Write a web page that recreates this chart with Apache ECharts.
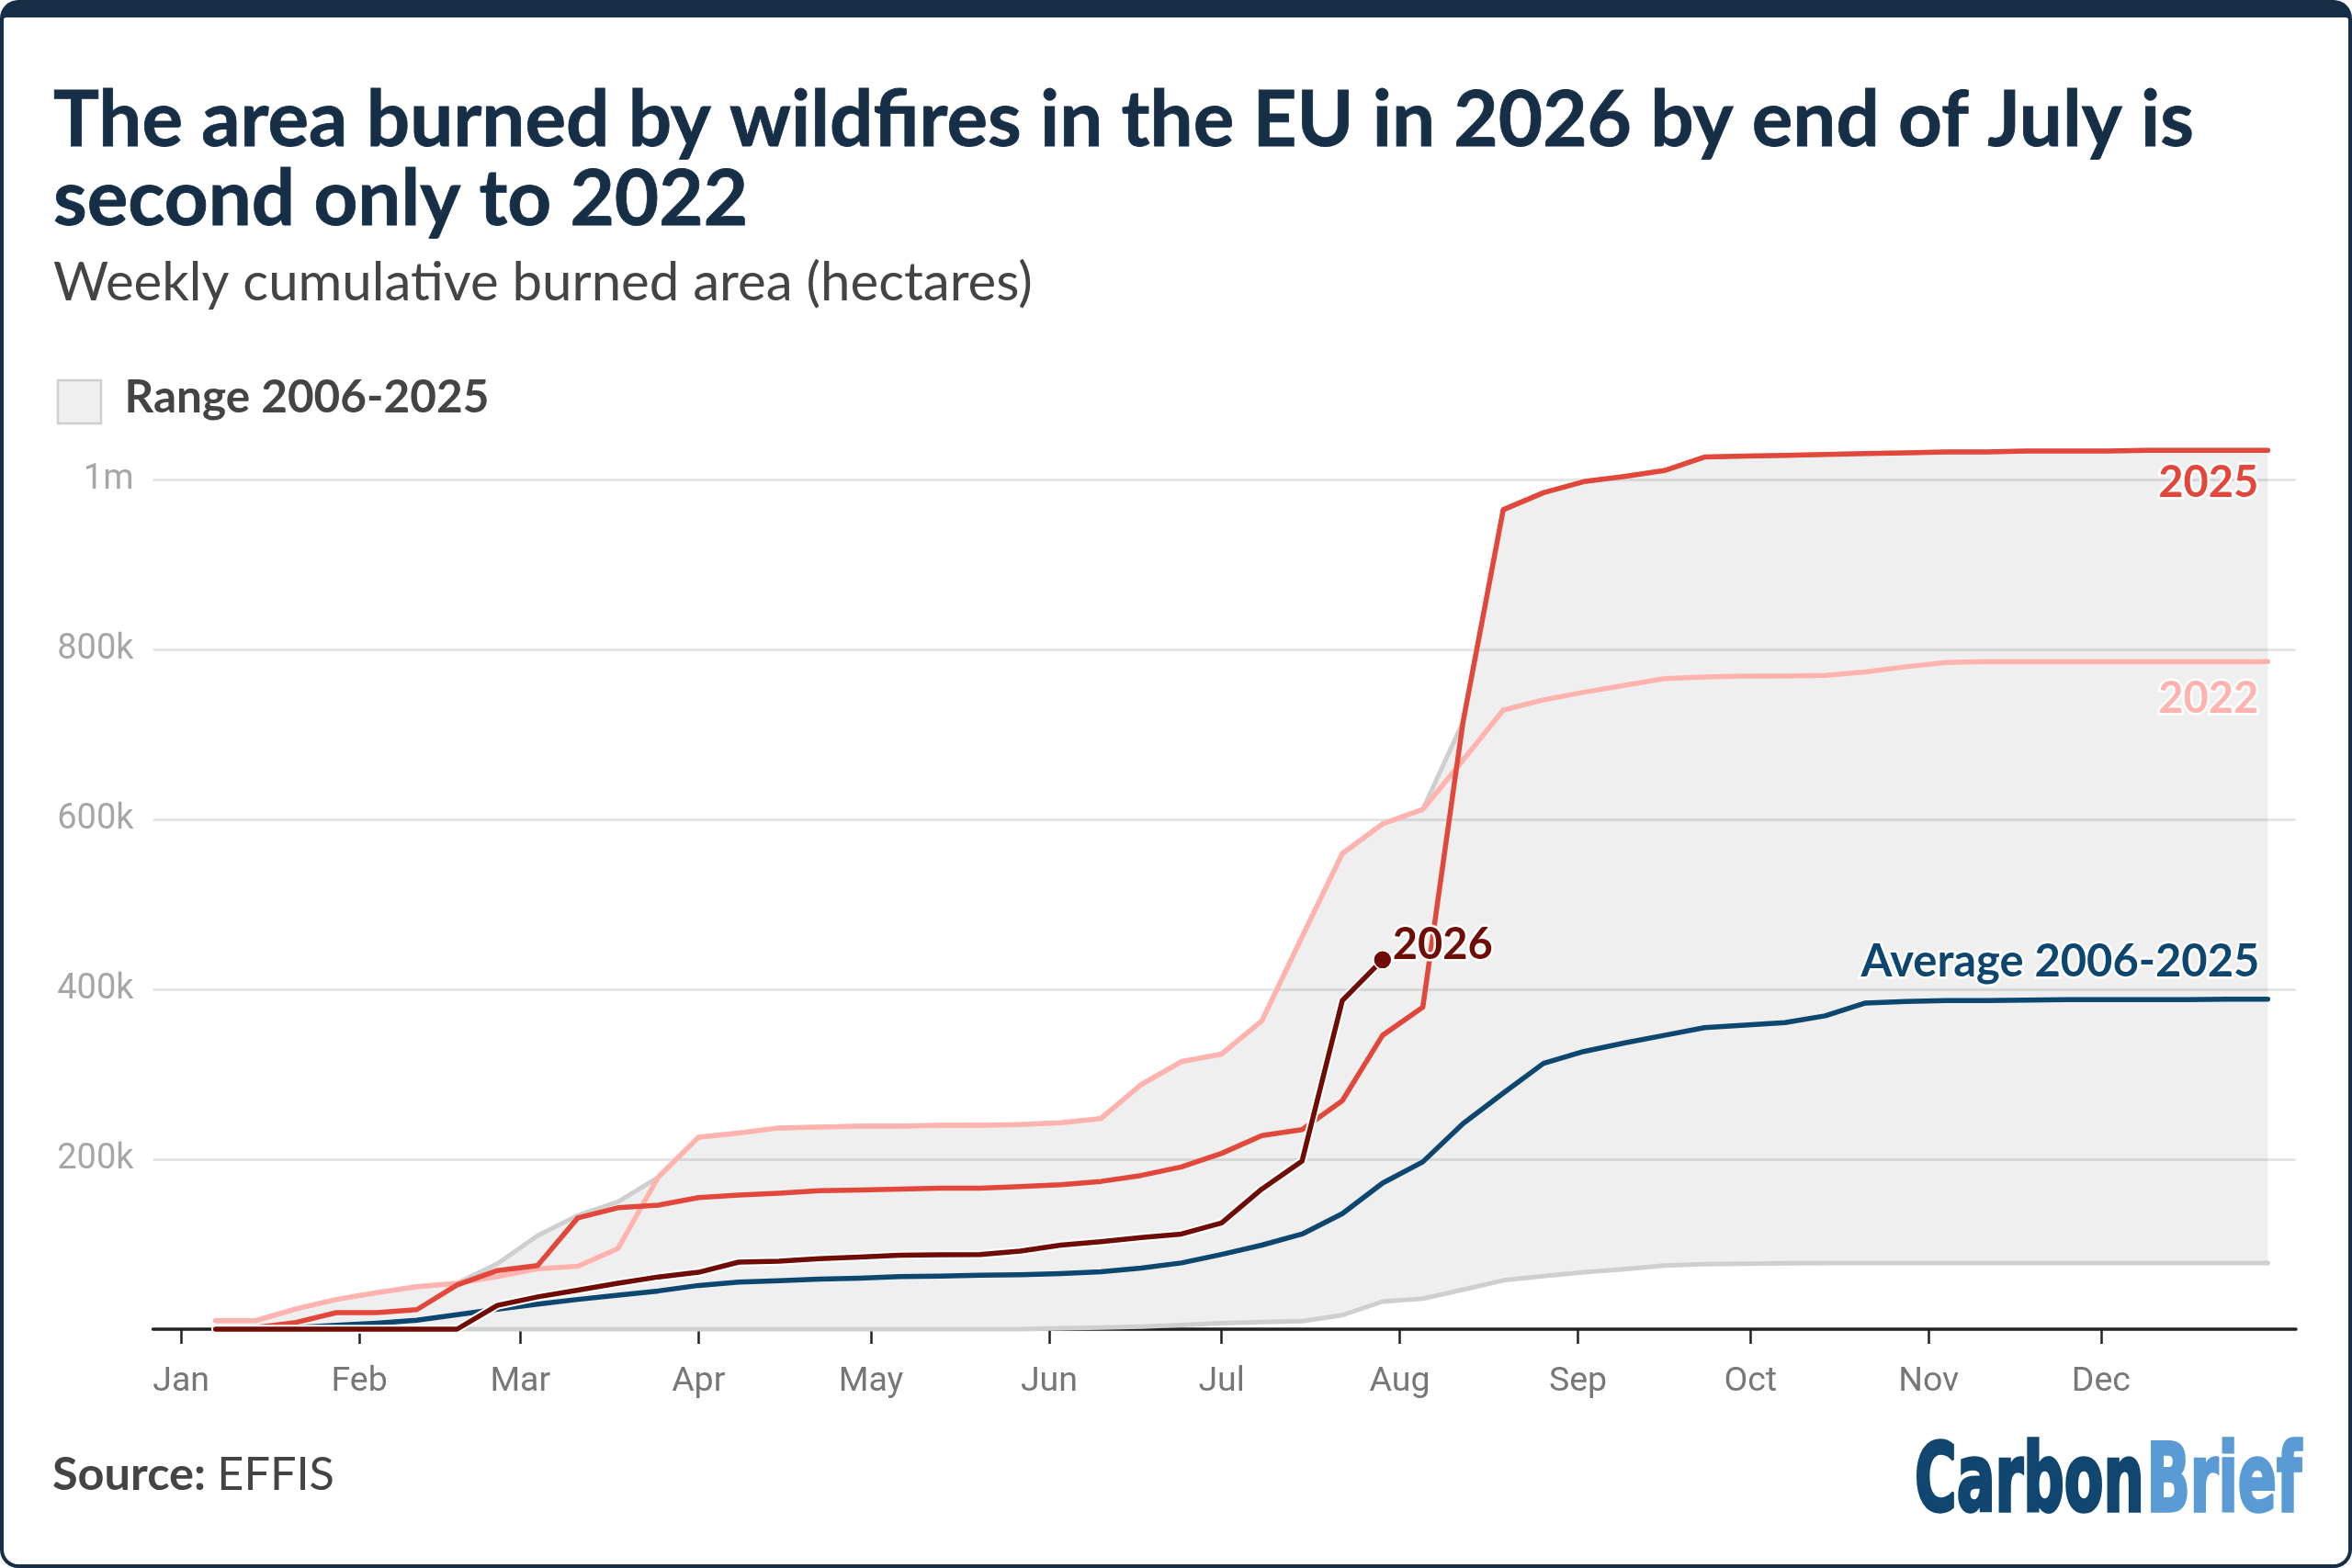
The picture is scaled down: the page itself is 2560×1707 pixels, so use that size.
<!DOCTYPE html>
<html>
<head>
<meta charset="utf-8">
<script src="https://cdn.jsdelivr.net/npm/echarts@6/dist/echarts.min.js"></script>
<style>
html,body{margin:0;padding:0;background:#fff;overflow:hidden}
#c{width:2560px;height:1707px}
</style>
</head>
<body>
<div id="c"></div>
<script>
// ---------------- DATA ----------------
const weekDates = ['01-07','01-14','01-21','01-28','02-04','02-11','02-18','02-25','03-04','03-11','03-18','03-25',
  '04-01','04-08','04-15','04-22','04-29','05-06','05-13','05-20','05-27','06-03','06-10','06-17','06-24',
  '07-01','07-08','07-15','07-22','07-29','08-05','08-12','08-19','08-26','09-02','09-09','09-16','09-23','09-30',
  '10-07','10-14','10-21','10-28','11-04','11-11','11-18','11-25','12-02','12-09','12-16','12-23','12-30'];

const monthStarts = ['01-01','02-01','03-01','04-01','05-01','06-01','07-01','08-01','09-01','10-01','11-01','12-01'];
const monthLabels = ['Jan','Feb','Mar','Apr','May','Jun','Jul','Aug','Sep','Oct','Nov','Dec'];

const rangeUpper = [10000,10000,24000,35000,43000,50000,54000,77000,110000,134000,
  150000,179000,226000,231000,237000,238000,239000,239000,240000,240000,
  241000,243000,248000,288000,315000,324000,363000,462000,560000,595000,
  612000,715000,965000,985000,998000,1004000,1011000,1027000,1028000,1029000,
  1030000,1031000,1032000,1033000,1033000,1034000,1034000,1034000,1035000,1035000,1035000,1035000];

const rangeLower = [0,0,0,0,0,0,0,0,0,0,
  0,0,0,0,0,0,0,0,0,0,
  0,1000,2000,3000,5000,7000,8500,9500,16500,32500,
  36000,46500,57500,62500,67000,70500,75000,76500,77000,77500,
  78000,78000,78000,78000,78000,78000,78000,78000,78000,78000,78000,78000];

const average = [0,500,2000,4500,7000,10500,17000,23500,29500,35000,
  40000,45000,51500,55500,57000,59000,60000,62000,62500,63500,
  64000,65500,67500,72000,78000,88000,99000,112000,136000,172000,
  197000,242000,278000,313000,327000,337000,346000,355000,358000,361000,
  369000,384000,386000,387000,387000,387500,388000,388000,388000,388000,388500,388500];

const y2022 = [10000,10000,24000,35000,43000,50000,54000,62000,71000,74000,
  95000,179000,226000,231000,237000,238000,239000,239000,240000,240000,
  241000,243000,248000,288000,315000,324000,363000,462000,560000,595000,
  612000,670000,729000,741000,750000,758000,766000,768000,769000,769000,
  770000,774000,780000,785000,786000,786000,786000,786000,786000,786000,786000,786000];

const y2025 = [0,2000,8000,19500,19500,23000,52000,69000,75000,131000,
  143000,146000,155000,158000,160000,163000,164000,165000,166000,166000,
  168000,170000,174000,181000,191000,207000,228000,235000,269000,346000,
  379000,715000,965000,985000,998000,1004000,1011000,1027000,1028000,1029000,
  1030000,1031000,1032000,1033000,1033000,1034000,1034000,1034000,1035000,1035000,1035000,1035000];

const y2026 = [0,0,0,0,0,0,0,28000,38000,46000,
  54000,61500,67000,79000,80000,83000,85000,87000,87500,88000,
  92000,99000,103000,108000,112000,125000,165000,198000,387000,435000];

const yTickValues = [0, 200000, 400000, 600000, 800000, 1000000];

// ---------------- HELPERS ----------------
function dayOfYear(md){
  const p = md.split('-').map(Number);
  return (Date.UTC(2026, p[0]-1, p[1]) - Date.UTC(2026, 0, 1)) / 864e5;
}
const xs = weekDates.map(dayOfYear);
const monthDays = monthStarts.map(dayOfYear);
const pairs = arr => arr.map((v, i) => [xs[i], v]);

const mctx = document.createElement('canvas').getContext('2d');
function measure(text, weight, family, size){
  mctx.font = weight + ' ' + size + 'px ' + family;
  return mctx.measureText(text).width;
}
function fit(text, weight, family, target){
  return 100 * target / measure(text, weight, family, 100);
}

const C = {
  navy:'#172e47', c2025:'#e1473a', c2022:'#ffb3ae', avg:'#0d466f', c2026:'#6e0c05',
  band:'rgba(0,0,0,0.063)', bandLine:'#cfcfcf', grid:'#e6e6e6'
};
const SANS = 'Lato, "Noto Sans", sans-serif';
const AX = 'Roboto, "Noto Sans", sans-serif';

function lineSeries(name, data, color, width, extra){
  return Object.assign({
    type:'line', name:name, data:pairs(data), symbol:'none', silent:true, clip:false,
    lineStyle:{color:color, width:width, join:'round', cap:'round'}, itemStyle:{color:color}
  }, extra || {});
}

// ---------------- CHART ----------------
const chart = echarts.init(document.getElementById('c'), null, {renderer:'canvas', width:2560, height:1707});

const option = {
  animation:false,
  backgroundColor:'transparent',
  grid:{left:166.5, right:61, top:522.5, bottom:260, containLabel:false},
  xAxis:{
    type:'value', min:-4.9, max:367.9,
    splitLine:{show:false},
    axisLine:{show:true, onZero:true, lineStyle:{color:'#222', width:3.5}},
    axisTick:{show:true, customValues:monthDays, length:16, lineStyle:{color:'#222', width:2.5}},
    axisLabel:{show:true, customValues:monthDays, margin:39, color:'#777', fontSize:37.5, fontFamily:AX,
      formatter:v => monthLabels[monthDays.indexOf(v)] || ''}
  },
  yAxis:{
    type:'value', min:0, max:1000000, interval:200000,
    axisLine:{show:false}, axisTick:{show:false},
    splitLine:{show:true, lineStyle:{color:C.grid, width:3}},
    axisLabel:{margin:21, color:'#a6a6a6', fontSize:38, fontFamily:AX,
      formatter:v => v === 0 ? '' : (v >= 1000000 ? (v/1000000) + 'm' : (v/1000) + 'k')}
  },
  series:[
    {
      type:'custom', name:'Range 2006-2025', silent:true, clip:false, z:1,
      data: xs.map((x, i) => [x, rangeLower[i], rangeUpper[i]]),
      encode:{x:0, y:[1,2]},
      renderItem:(params, api) => {
        if (params.dataIndex !== 0) return null;
        const top = xs.map((x, i) => api.coord([x, rangeUpper[i]]));
        const bot = xs.map((x, i) => api.coord([x, rangeLower[i]])).reverse();
        return {type:'polygon', shape:{points: top.concat(bot)}, style:{fill:C.band}};
      }
    },
    lineSeries('Range upper', rangeUpper, C.bandLine, 5),
    lineSeries('Range lower', rangeLower, C.bandLine, 5),
    lineSeries('Average 2006-2025', average, C.avg, 5.5),
    lineSeries('2022', y2022, C.c2022, 5.5),
    lineSeries('2025', y2025, C.c2025, 5.5),
    lineSeries('2026 halo', y2026, '#ffffff', 9.5),
    lineSeries('2026', y2026, C.c2026, 5.5, {
      symbol:'circle', showSymbol:true, showAllSymbol:true,
      symbolSize:(v, p) => p.dataIndex === y2026.length - 1 ? 20 : 0,
      itemStyle:{color:C.c2026, borderColor:'#fff', borderWidth:1.5}
    })
  ]
};
chart.setOption(option);

// ---------------- TEXT / DECORATION ----------------
const px = (x, y) => chart.convertToPixel({gridIndex:0}, [x, y]);

function txt(text, x, y, size, weight, family, fill, align, extra){
  return Object.assign({
    type:'text', z:100, silent:true,
    style:Object.assign({
      text:text, x:x, y:y, fontSize:size, fontWeight:weight, fontFamily:family, fill:fill,
      align:align || 'left', textAlign:align || 'left', verticalAlign:'middle', textVerticalAlign:'middle'
    }, extra || {})
  });
}

const title1 = 'The area burned by wildfires in the EU in 2026 by end of July is';
const title2 = 'second only to 2022';
const subtitle = 'Weekly cumulative burned area (hectares)';
const titleSize = fit(title1, 'bold', SANS, 2330);
const subSize = fit(subtitle, 'normal', SANS, 1066);
const legendSize = fit('Range 2006-2025', 'bold', SANS, 397);

const srcW100 = measure('Source: ', 'bold', SANS, 100) + measure('EFFIS', 'normal', SANS, 100);
const srcSize = 100 * 307 / srcW100;
const srcBoldW = measure('Source: ', 'bold', SANS, srcSize);

const lblSize = fit('2025', 'bold', SANS, 109);
const avgSize = fit('Average 2006-2025', 'bold', SANS, 434);
const halo = {stroke:'#fff', lineWidth:5, strokeFirst:true};

const LOGO = '"Liberation Sans Narrow", "DejaVu Sans Condensed", "Liberation Sans", sans-serif';
const logoSize = 104;
const wCarbon = measure('Carbon', 'bold', LOGO, logoSize);
const wBrief = measure('Brief', 'bold', LOGO, logoSize);
const logoScale = 421 / (wCarbon + wBrief + 4);

const p25 = px(xs[xs.length-1], y2025[y2025.length-1]);
const p22 = px(xs[xs.length-1], y2022[y2022.length-1]);
const pAv = px(xs[xs.length-1], average[average.length-1]);
const p26 = px(xs[y2026.length-1], y2026[y2026.length-1]);

chart.setOption({
  graphic:[
    {type:'rect', z:-20, silent:true, shape:{x:0, y:0, width:2560, height:1707, r:20}, style:{fill:C.navy}},
    {type:'rect', z:-19, silent:true, shape:{x:4, y:19, width:2552, height:1684, r:[3,3,16,16]}, style:{fill:'#fff'}},

    txt(title1, 58, 132, titleSize, 'bold', SANS, C.navy, 'left', {stroke:C.navy, lineWidth:0.8}),
    txt(title2, 58, 218, titleSize, 'bold', SANS, C.navy, 'left', {stroke:C.navy, lineWidth:0.8}),
    txt(subtitle, 58, 308, subSize, 'normal', SANS, '#444'),

    {type:'rect', z:100, silent:true, shape:{x:63, y:414, width:47, height:47}, style:{fill:'#efefef', stroke:'#cfcfcf', lineWidth:2.5}},
    txt('Range 2006-2025', 135.5, 433, legendSize, 'bold', SANS, '#444'),

    txt('2025', p25[0]-10, p25[1]+36, lblSize, 'bold', SANS, C.c2025, 'right', halo),
    txt('2022', p22[0]-10, p22[1]+41, lblSize, 'bold', SANS, C.c2022, 'right', halo),
    txt('Average 2006-2025', pAv[0]-9, pAv[1]-41, avgSize, 'bold', SANS, C.avg, 'right', halo),
    txt('2026', p26[0]+11, p26[1]-16, lblSize, 'bold', SANS, C.c2026, 'left', halo),

    txt('Source: ', 57, 1606, srcSize, 'bold', SANS, '#444'),
    txt('EFFIS', 57 + srcBoldW, 1606, srcSize, 'normal', SANS, '#444'),

    {type:'group', x:2084, y:1618, scaleX:logoScale, z:100, silent:true, children:[
      txt('Carbon', 0, 0, logoSize, 'bold', LOGO, '#10466f', 'left', {stroke:'#10466f', lineWidth:3.5}),
      txt('Brief', wCarbon + 4, 0, logoSize, 'bold', LOGO, '#5b9bd5', 'left', {stroke:'#5b9bd5', lineWidth:3.5})
    ]}
  ]
});
</script>
</body>
</html>
